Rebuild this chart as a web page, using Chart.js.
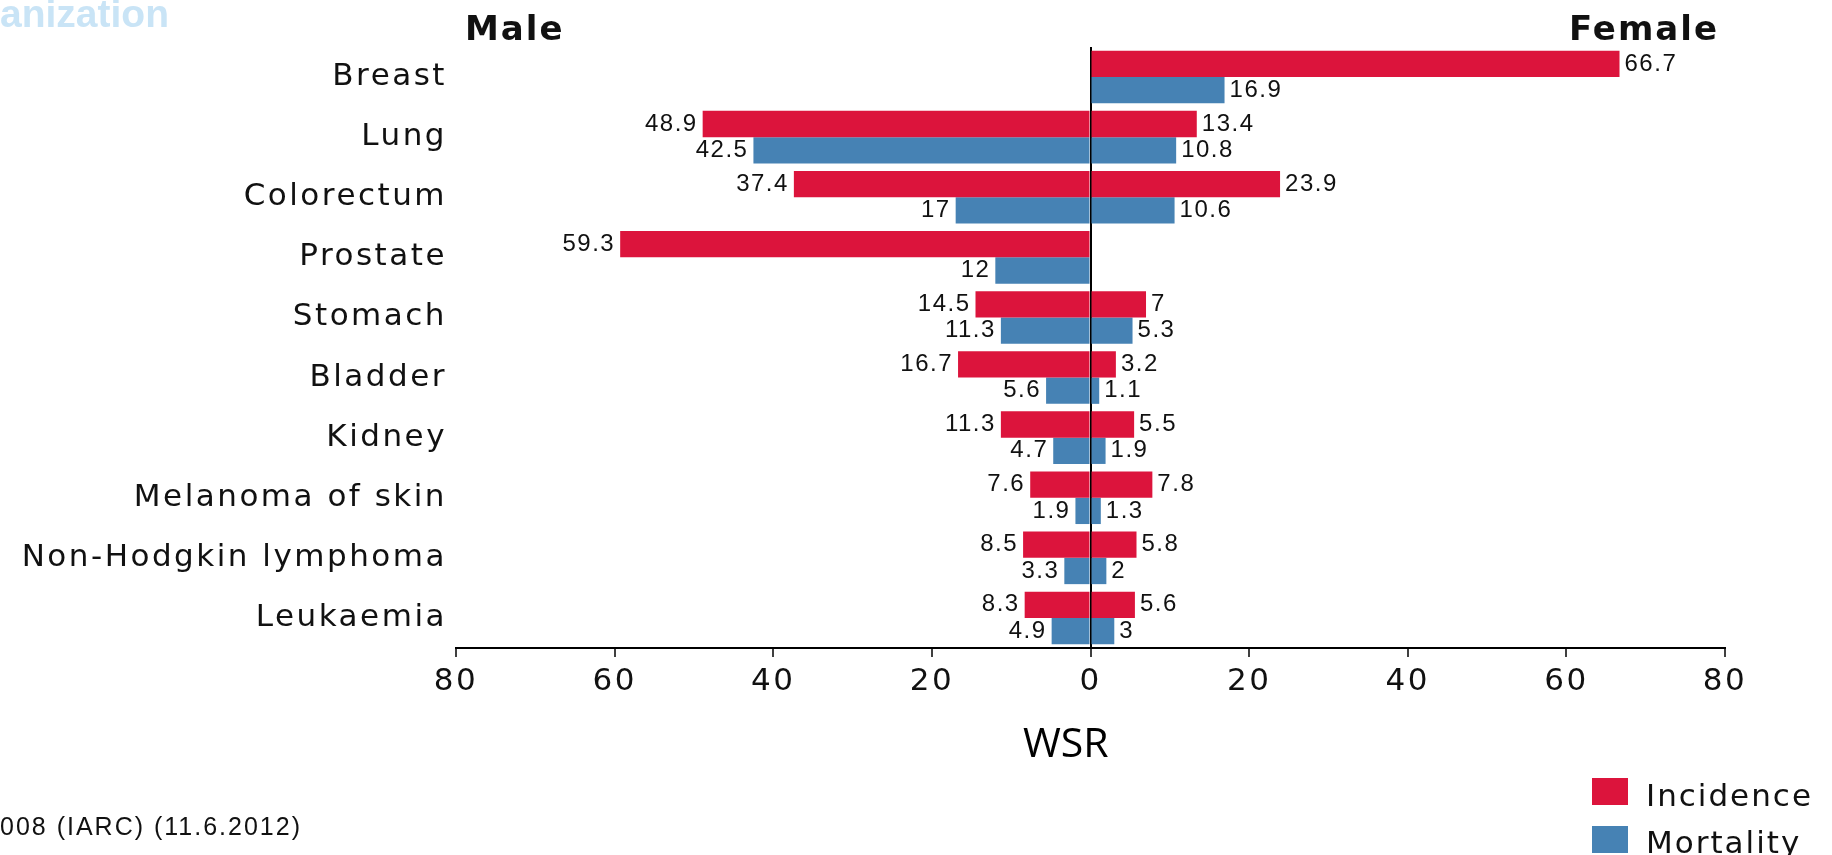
<!DOCTYPE html>
<html>
<head>
<meta charset="utf-8">
<script src="https://cdn.jsdelivr.net/npm/chart.js@4.4.1/dist/chart.umd.min.js"></script>
<style>
  html, body { margin: 0; padding: 0; background: #fff; }
  #wrap { position: relative; width: 1832px; height: 855px; overflow: hidden; }
  #wrap canvas { position: absolute; left: 0; top: 0; }
  .txt { position: absolute; white-space: nowrap; line-height: 1; color: #111; }
  .sw { position: absolute; width: 36px; height: 27px; }
</style>
</head>
<body>
<div id="wrap">
  <canvas id="chart" width="1832" height="855"></canvas>
  <div class="txt" style="left:0;top:-8px;font:bold 39px 'Liberation Sans';color:#c9e4f6;">anization</div>
  <div class="txt" style="left:465px;top:8px;font:bold 34px 'DejaVu Sans';letter-spacing:2px;">Male</div>
  <div class="txt" style="right:113px;top:8px;font:bold 34px 'DejaVu Sans';letter-spacing:2px;">Female</div>
  <div class="txt" style="left:1023px;top:713px;font:41px 'Open Sans';color:#000;">WSR</div>
  <div class="txt" style="left:0;top:812px;font:25px 'Liberation Sans';letter-spacing:2px;">008 (IARC) (11.6.2012)</div>
  <div class="sw" style="left:1592px;top:778px;background:#dc143c;"></div>
  <div class="txt" style="left:1646px;top:777px;font:31px 'DejaVu Sans';letter-spacing:2px;">Incidence</div>
  <div class="sw" style="left:1592px;top:826px;background:#4682b4;"></div>
  <div class="txt" style="left:1646px;top:824px;font:31px 'DejaVu Sans';letter-spacing:2px;">Mortality</div>
</div>
<script>
const SITES = ["Breast", "Lung", "Colorectum", "Prostate", "Stomach", "Bladder", "Kidney",
  "Melanoma of skin", "Non-Hodgkin lymphoma", "Leukaemia"];
const MALE_INC = [null, 48.9, 37.4, 59.3, 14.5, 16.7, 11.3, 7.6, 8.5, 8.3];
const MALE_MORT = [null, 42.5, 17, 12, 11.3, 5.6, 4.7, 1.9, 3.3, 4.9];
const FEMALE_INC = [66.7, 13.4, 23.9, null, 7, 3.2, 5.5, 7.8, 5.8, 5.6];
const FEMALE_MORT = [16.9, 10.8, 10.6, null, 5.3, 1.1, 1.9, 1.3, 2, 3];
const X_TICKS = [-80, -60, -40, -20, 0, 20, 40, 60, 80];

const RED = "#dc143c";
const BLUE = "#4682b4";

const neg = (arr) => arr.map((v) => (v === null ? null : -v));

// the original axis font is wide, so open the letters a bit
const spacing = {
  id: "spacing",
  beforeDraw(chart) { chart.ctx.letterSpacing = "2.5px"; },
  beforeDatasetsDraw(chart) { chart.ctx.letterSpacing = "0px"; },
};

// value labels at bar ends
const barLabels = {
  id: "barLabels",
  afterDatasetsDraw(chart) {
    const ctx = chart.ctx;
    ctx.save();
    ctx.letterSpacing = "1.5px";
    ctx.font = "24px 'Liberation Sans'";
    ctx.fillStyle = "#111";
    ctx.textBaseline = "middle";
    chart.data.datasets.forEach((ds, i) => {
      chart.getDatasetMeta(i).data.forEach((bar, j) => {
        const v = ds.data[j];
        if (v === null) return;
        const txt = String(Math.abs(v));
        if (v < 0) {
          ctx.textAlign = "right";
          ctx.fillText(txt, bar.x - 5, bar.y);
        } else {
          ctx.textAlign = "left";
          ctx.fillText(txt, bar.x + 5, bar.y);
        }
      });
    });
    ctx.restore();
  },
};

new Chart(document.getElementById("chart"), {
  type: "bar",
  data: {
    labels: SITES,
    datasets: [
      { label: "Incidence", data: neg(MALE_INC), backgroundColor: RED, stack: "inc" },
      { label: "Incidence", data: FEMALE_INC, backgroundColor: RED, stack: "inc" },
      { label: "Mortality", data: neg(MALE_MORT), backgroundColor: BLUE, stack: "mort" },
      { label: "Mortality", data: FEMALE_MORT, backgroundColor: BLUE, stack: "mort" },
    ],
  },
  options: {
    indexAxis: "y",
    responsive: false,
    animation: false,
    categoryPercentage: 0.875,
    barPercentage: 1.0,
    layout: { padding: { top: 47, right: 107, left: 0, bottom: 0 } },
    plugins: { legend: { display: false }, tooltip: { enabled: false } },
    scales: {
      x: {
        stacked: true,
        min: -80,
        max: 80,
        afterBuildTicks(scale) { scale.ticks = X_TICKS.map((v) => ({ value: v })); },
        afterFit(scale) { scale.height = 207; },
        ticks: {
          callback: (v) => String(Math.abs(v)),
          color: "#111",
          font: { family: "DejaVu Sans", size: 31 },
          padding: 6,
          maxRotation: 0,
        },
        grid: {
          drawOnChartArea: true,
          color: (c) => (c.tick && c.tick.value === 0 ? "#000" : "rgba(0,0,0,0)"),
          lineWidth: 2,
          tickColor: "#000",
          tickLength: 9,
          tickWidth: 1.5,
        },
        border: { display: true, color: "#000", width: 2 },
      },
      y: {
        stacked: true,
        afterFit(scale) { scale.width = 456; },
        ticks: {
          color: "#111",
          font: { family: "DejaVu Sans", size: 31 },
          padding: 1,
        },
        grid: { display: false },
        border: { display: false },
      },
    },
  },
  plugins: [spacing, barLabels],
});
</script>
</body>
</html>
